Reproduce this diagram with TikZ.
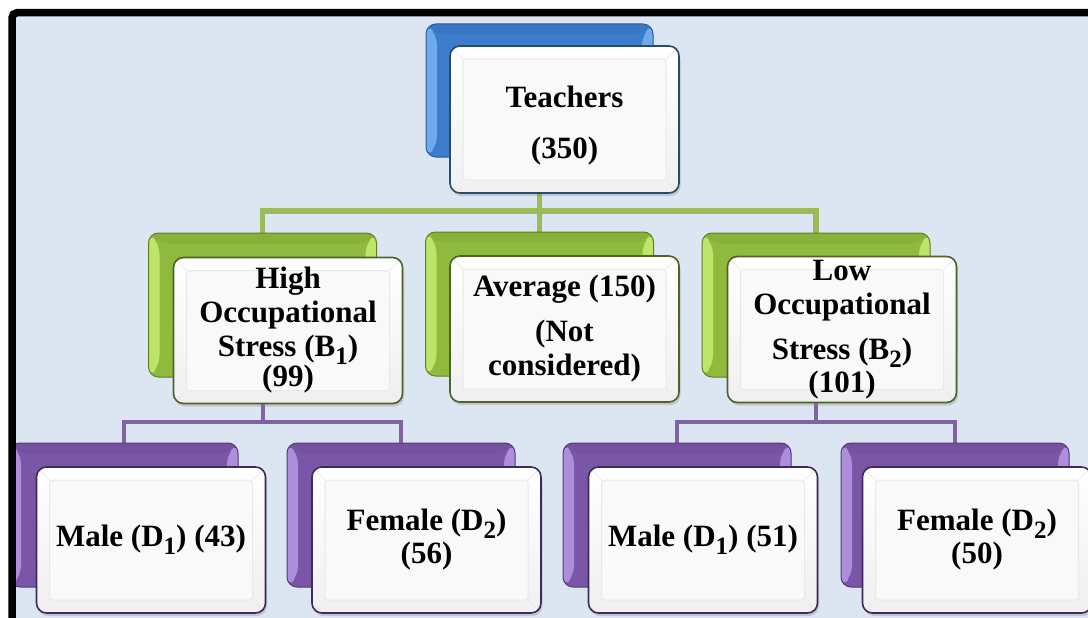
\documentclass[tikz,border=0pt]{standalone}
\usepackage{fontspec}
\setmainfont{Liberation Serif}
\usetikzlibrary{shadows}
\pgfdeclarelayer{bg}
\pgfsetlayers{bg,main}
\newcommand\mysub[1]{\raisebox{-8pt}{\fontsize{25}{25}\selectfont #1}}
\definecolor{bgcol}{HTML}{DCE6F2}
\definecolor{bluebase}{HTML}{3C7CCB}
\definecolor{bluelight}{HTML}{6EAAEC}
\definecolor{bluedark}{HTML}{2C5C9A}
\definecolor{bluefront}{HTML}{2B4A6A}
\definecolor{greenbase}{HTML}{8FBA3E}
\definecolor{greenlight}{HTML}{BFE46A}
\definecolor{greendark}{HTML}{5E7F23}
\definecolor{greenfront}{HTML}{4F6228}
\definecolor{purplebase}{HTML}{7B56A6}
\definecolor{purplelight}{HTML}{AE8DDF}
\definecolor{purpledark}{HTML}{553A79}
\definecolor{purplefront}{HTML}{3F2A5A}
\definecolor{gline}{HTML}{9BBB59}
\definecolor{pline}{HTML}{8064A2}
\tikzset{
  backbox/.style={rounded corners=10pt, minimum width=228pt, minimum height=144pt,
    inner sep=0pt, line width=1pt, draw=#1dark, fill=#1base,
    path picture={
      \fill[#1light] (path picture bounding box.north west)
        -- ([shift={(11pt,-11pt)}]path picture bounding box.north west)
        -- ([shift={(11pt,11pt)}]path picture bounding box.south west)
        -- (path picture bounding box.south west) -- cycle;
      \fill[#1light] (path picture bounding box.north east)
        -- ([shift={(-11pt,-11pt)}]path picture bounding box.north east)
        -- ([shift={(-11pt,11pt)}]path picture bounding box.south east)
        -- (path picture bounding box.south east) -- cycle;
      \fill[#1dark, opacity=0.15] (path picture bounding box.north west)
        -- ([shift={(11pt,-11pt)}]path picture bounding box.north west)
        -- ([shift={(-11pt,-11pt)}]path picture bounding box.north east)
        -- (path picture bounding box.north east) -- cycle;
    }},
  frontbox/.style={rounded corners=10pt, minimum width=229pt, minimum height=146pt,
    inner sep=0pt, line width=1.6pt, draw=#1front, top color=white, bottom color=black!6,
    align=center, font=\fontsize{31}{34}\selectfont\bfseries,
    drop shadow={shadow xshift=1.5pt, shadow yshift=-3pt, opacity=0.3},
    path picture={
      \draw[black!9, fill=black!2.5, line width=1pt, rounded corners=3pt]
        ([shift={(13pt,-13pt)}]path picture bounding box.north west)
        rectangle ([shift={(-13pt,13pt)}]path picture bounding box.south east);
      \draw[black!8, line width=0.8pt]
        (path picture bounding box.north west) -- ([shift={(13pt,-13pt)}]path picture bounding box.north west)
        (path picture bounding box.north east) -- ([shift={(-13pt,-13pt)}]path picture bounding box.north east)
        (path picture bounding box.south west) -- ([shift={(13pt,13pt)}]path picture bounding box.south west)
        (path picture bounding box.south east) -- ([shift={(-13pt,13pt)}]path picture bounding box.south east);
    }},
  gconn/.style={draw=gline, line width=5.5pt},
  pconn/.style={draw=pline, line width=4pt},
}
\begin{document}
\begin{tikzpicture}[x=1pt,y=-1pt]
\useasboundingbox (0,0) rectangle (1088,618);
\clip (0,0) rectangle (1088,618);
% level 1
\node[backbox=blue, minimum width=227pt, minimum height=133pt] (bT) at (539.5,90.5) {};
\node[frontbox=blue, minimum height=147pt] (fT) at (564.5,119.5)
  {\raisebox{-7pt}[\height][\depth]{\begin{tabular}{@{}c@{}}Teachers\\[17pt](350)\end{tabular}}};
% level 2
\node[backbox=green] (bH) at (262.5,305) {};
\node[frontbox=green] (fH) at (288,330.5) {High\\Occupational\\Stress (B\mysub{1})\\[-4pt](99)};
\node[backbox=green] (bA) at (539.5,304) {};
\node[frontbox=green] (fA) at (564.5,329) {Average (150)\\[11pt](Not\\considered)};
\node[backbox=green] (bL) at (816,305) {};
\node[frontbox=green] (fL) at (842,329.5) {Low\\Occupational\\[11pt]Stress (B\mysub{2})\\[-1pt](101)};
% level 3
\node[backbox=purple] (bM1) at (124,515) {};
\node[frontbox=purple] (fM1) at (151,540) {Male (D\mysub{1}) (43)};
\node[backbox=purple] (bF1) at (401,515) {};
\node[frontbox=purple] (fF1) at (426.5,540) {Female (D\mysub{2})\\[-1pt](56)};
\node[backbox=purple] (bM2) at (677,515) {};
\node[frontbox=purple] (fM2) at (703,540) {Male (D\mysub{1}) (51)};
\node[backbox=purple] (bF2) at (955,515) {};
\node[frontbox=purple] (fF2) at (977,540) {Female (D\mysub{2})\\[-1pt](50)};
\coordinate (gy) at (0,211);
\coordinate (py) at (0,422);
\begin{pgfonlayer}{bg}
  \fill[white] (0,0) rectangle (1088,618);
  \fill[bgcol] (12,12) rectangle (1088,618);
  \draw[gconn] (bT.center) -- (bA.north);
  \draw[gconn] (bH.north) |- (bT.center |- gy) -| (bL.north);
  \draw[pconn] (bH.center) -- (bH.center |- py);
  \draw[pconn] (bM1.north) |- (bH.center |- py) -| (bF1.north);
  \draw[pconn] (bL.center) -- (bL.center |- py);
  \draw[pconn] (bM2.north) |- (bL.center |- py) -| (bF2.north);
\end{pgfonlayer}
% frame
\draw[line width=7.5pt, rounded corners=5pt] (12,12.75) rectangle (1300,900);
\end{tikzpicture}
\end{document}
